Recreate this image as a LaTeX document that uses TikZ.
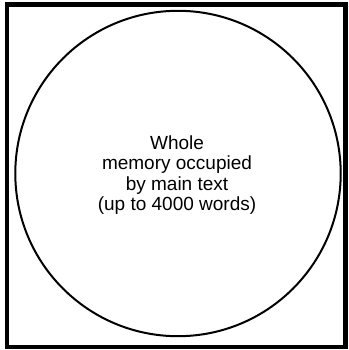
\documentclass[tikz,border=0pt]{standalone}
\usepackage{fontspec}
\setmainfont{Liberation Sans}
\begin{document}
\begin{tikzpicture}[x=1pt,y=-1pt]
  \useasboundingbox (0,0) rectangle (348,350);
  \draw[line width=4.5pt] (7,4.5) rectangle (345.5,347);
  \draw[line width=2pt] (178,173.5) circle[radius=162.7];
  \node[align=center, font=\fontsize{19}{20.3}\selectfont] (memtext) at (177,175)
    {Whole\\memory occupied\\by main text\\(up to 4000 words)};
\end{tikzpicture}
\end{document}
